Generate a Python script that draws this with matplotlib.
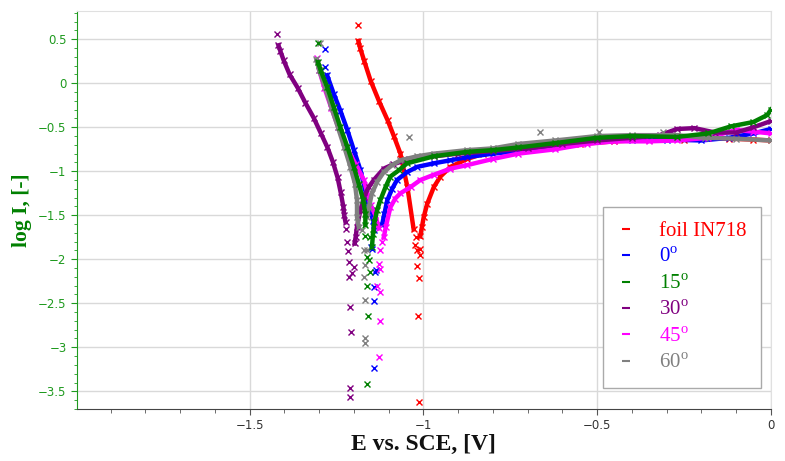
import matplotlib
matplotlib.use("Agg")
import matplotlib.pyplot as plt
from matplotlib.lines import Line2D
from matplotlib.ticker import MultipleLocator, FuncFormatter

# (E vs SCE [V], log I)
# foil IN718
red_top = [(-1.187, 0.66)]
red_cath = [(-1.187, 0.48), (-1.182, 0.40), (-1.170, 0.25), (-1.152, 0.03), (-1.128, -0.20),
            (-1.103, -0.42), (-1.085, -0.60), (-1.066, -0.80), (-1.046, -1.18), (-1.028, -1.66)]
red_scat = [(-1.020, -1.75), (-1.023, -1.84), (-1.018, -1.90), (-1.010, -1.88), (-1.009, -1.95),
            (-1.018, -2.08), (-1.013, -2.21), (-1.016, -2.65), (-1.013, -3.62)]
red_anod = [(-1.009, -1.74), (-1.004, -1.63), (-0.999, -1.52), (-0.989, -1.37), (-0.970, -1.18),
            (-0.951, -1.06), (-0.922, -0.95), (-0.874, -0.86), (-0.827, -0.80), (-0.75, -0.76),
            (-0.65, -0.72), (-0.55, -0.69), (-0.45, -0.66), (-0.35, -0.64), (-0.25, -0.64),
            (-0.18, -0.62), (-0.12, -0.63), (-0.05, -0.64), (0.0, -0.65)]

# 0 deg
blue_top = [(-1.283, 0.39), (-1.282, 0.19)]
blue_cath = [(-1.277, 0.09), (-1.258, -0.12), (-1.239, -0.31), (-1.219, -0.53), (-1.200, -0.76),
             (-1.181, -0.99), (-1.167, -1.22), (-1.157, -1.41), (-1.144, -1.56), (-1.142, -1.67)]
blue_scat = [(-1.152, -1.86), (-1.148, -1.88), (-1.138, -2.14), (-1.135, -2.12), (-1.143, -2.32),
             (-1.141, -2.47), (-1.141, -3.23)]
blue_anod = [(-1.119, -1.61), (-1.112, -1.48), (-1.104, -1.33), (-1.090, -1.20), (-1.076, -1.10),
             (-1.047, -1.01), (-1.018, -0.95), (-0.970, -0.91), (-0.922, -0.875), (-0.874, -0.84),
             (-0.80, -0.80), (-0.70, -0.76), (-0.60, -0.70), (-0.50, -0.66), (-0.40, -0.64),
             (-0.30, -0.64), (-0.20, -0.65), (-0.12, -0.62), (-0.05, -0.57), (0.0, -0.52)]

# 15 deg
green_top = [(-1.304, 0.46)]
green_cath = [(-1.303, 0.24), (-1.296, 0.15), (-1.277, -0.04), (-1.258, -0.27), (-1.239, -0.50),
              (-1.219, -0.72), (-1.200, -0.95), (-1.186, -1.14), (-1.173, -1.33), (-1.167, -1.48),
              (-1.167, -1.61)]
green_scat = [(-1.167, -1.73), (-1.154, -1.75), (-1.162, -1.97), (-1.157, -2.01), (-1.155, -2.15),
              (-1.162, -2.30), (-1.159, -2.64), (-1.162, -3.42)]
green_anod = [(-1.148, -1.86), (-1.145, -1.71), (-1.141, -1.58), (-1.133, -1.44), (-1.124, -1.33),
              (-1.109, -1.18), (-1.095, -1.06), (-1.071, -0.99), (-1.047, -0.91), (-0.970, -0.83),
              (-0.874, -0.78), (-0.80, -0.76), (-0.727, -0.73), (-0.62, -0.68), (-0.50, -0.62),
              (-0.40, -0.60), (-0.27, -0.61), (-0.18, -0.57), (-0.115, -0.49), (-0.05, -0.44),
              (-0.01, -0.36), (0.0, -0.30)]

# 30 deg
purple_top = [(-1.420, 0.56)]
purple_cath = [(-1.417, 0.43), (-1.412, 0.37), (-1.402, 0.26), (-1.385, 0.10), (-1.362, -0.05),
               (-1.340, -0.22), (-1.316, -0.39), (-1.296, -0.56), (-1.276, -0.73), (-1.260, -0.90),
               (-1.247, -1.07), (-1.238, -1.24), (-1.230, -1.41), (-1.228, -1.50), (-1.224, -1.58)]
purple_scat = [(-1.222, -1.66), (-1.219, -1.80), (-1.217, -1.91), (-1.214, -2.03), (-1.200, -2.09),
               (-1.205, -2.16), (-1.214, -2.20), (-1.212, -2.54), (-1.208, -2.83), (-1.210, -3.46),
               (-1.212, -3.56)]
purple_anod = [(-1.198, -1.82), (-1.195, -1.75), (-1.191, -1.63), (-1.181, -1.44), (-1.171, -1.29),
               (-1.157, -1.18), (-1.143, -1.10), (-1.114, -0.97), (-1.086, -0.92), (-1.04, -0.86),
               (-0.97, -0.83), (-0.90, -0.80), (-0.80, -0.77), (-0.70, -0.74), (-0.60, -0.69),
               (-0.50, -0.65), (-0.40, -0.62), (-0.32, -0.59), (-0.27, -0.52), (-0.22, -0.51),
               (-0.16, -0.56), (-0.10, -0.56), (-0.05, -0.50), (0.0, -0.43)]

# 45 deg
magenta_top = [(-1.307, 0.29)]
magenta_cath = [(-1.300, 0.15), (-1.285, -0.05), (-1.265, -0.28), (-1.245, -0.50), (-1.222, -0.72),
                (-1.195, -0.92), (-1.171, -1.10), (-1.152, -1.38), (-1.138, -1.50), (-1.128, -1.65)]
magenta_scat = [(-1.119, -1.80), (-1.124, -1.90), (-1.128, -2.05), (-1.124, -2.11), (-1.133, -2.30),
                (-1.125, -2.37), (-1.125, -2.70), (-1.128, -3.11)]
magenta_anod = [(-1.114, -1.75), (-1.108, -1.63), (-1.095, -1.41), (-1.081, -1.31), (-1.066, -1.25),
                (-1.037, -1.18), (-1.009, -1.10), (-0.970, -1.04), (-0.922, -0.97), (-0.874, -0.93),
                (-0.80, -0.86), (-0.727, -0.80), (-0.62, -0.75), (-0.53, -0.69), (-0.45, -0.66),
                (-0.35, -0.66), (-0.27, -0.65), (-0.18, -0.62), (-0.10, -0.53), (-0.05, -0.55),
                (0.0, -0.57)]

# 60 deg
gray_top = [(-1.298, 0.46), (-1.040, -0.61), (-0.664, -0.55), (-0.495, -0.55), (-0.31, -0.55)]
gray_cath = [(-1.308, 0.27), (-1.300, 0.15), (-1.283, -0.04), (-1.265, -0.27), (-1.246, -0.50),
             (-1.228, -0.72), (-1.210, -0.95), (-1.197, -1.14), (-1.191, -1.33), (-1.191, -1.52),
             (-1.186, -1.63)]
gray_scat = [(-1.176, -1.67), (-1.171, -1.89), (-1.162, -1.89), (-1.167, -2.07), (-1.171, -2.20),
             (-1.167, -2.46), (-1.169, -2.90), (-1.169, -2.95)]
gray_anod = [(-1.162, -1.52), (-1.157, -1.41), (-1.148, -1.25), (-1.133, -1.12), (-1.114, -1.01),
             (-1.090, -0.93), (-1.066, -0.875), (-1.018, -0.83), (-0.970, -0.80), (-0.874, -0.76),
             (-0.80, -0.74), (-0.727, -0.69), (-0.62, -0.65), (-0.50, -0.60), (-0.40, -0.59),
             (-0.27, -0.59), (-0.19, -0.62), (-0.10, -0.63), (0.0, -0.65)]

labels = ["foil IN718", r"0$^{\mathrm{o}}$", r"15$^{\mathrm{o}}$", r"30$^{\mathrm{o}}$",
          r"45$^{\mathrm{o}}$", r"60$^{\mathrm{o}}$"]
colors = ["#ff0000", "#0000ff", "#008000", "#800080", "#ff00ff", "#808080"]

series = [
    (red_top, red_cath, red_scat, red_anod),
    (blue_top, blue_cath, blue_scat, blue_anod),
    (green_top, green_cath, green_scat, green_anod),
    (purple_top, purple_cath, purple_scat, purple_anod),
    (magenta_top, magenta_cath, magenta_scat, magenta_anod),
    (gray_top, gray_cath, gray_scat, gray_anod),
]
draw_order = [0, 1, 4, 3, 5, 2]

plt.rcParams["mathtext.fontset"] = "custom"
plt.rcParams["mathtext.rm"] = "Liberation Serif"

fig = plt.figure(figsize=(7.85, 4.61), dpi=100)
ax = fig.add_axes([0.098, 0.113, 0.884, 0.863])

for i in draw_order:
    top, cath, scat, anod = series[i]
    c = colors[i]
    for branch in (cath, anod):
        xs, ys = zip(*branch)
        ax.plot(xs, ys, color=c, lw=3.2, marker="x", ms=4.5, mew=1, zorder=3)
    for pts in (top, scat):
        xs, ys = zip(*pts)
        ax.plot(xs, ys, color=c, lw=0, marker="x", ms=4, mew=1, zorder=3)

ax.set_xlim(-1.997, 0.0)
ax.set_ylim(-3.7, 0.82)
ax.xaxis.set_major_locator(MultipleLocator(0.5))
ax.xaxis.set_minor_locator(MultipleLocator(0.1))
ax.yaxis.set_major_locator(MultipleLocator(0.5))
ax.yaxis.set_minor_locator(MultipleLocator(0.1))
fmt = FuncFormatter(lambda v, pos: ("%g" % round(v, 2)).replace("-", "\u2212"))
ax.xaxis.set_major_formatter(fmt)
ax.yaxis.set_major_formatter(fmt)
ax.grid(True, which="major", color="#d9d9d9", lw=1)
ax.set_axisbelow(True)

green = "#1f9a1f"
ax.spines["left"].set_color(green)
ax.spines["bottom"].set_color("#444444")
ax.spines["top"].set_color("#e0e0e0")
ax.spines["right"].set_color("#e0e0e0")
ax.tick_params(axis="y", which="both", colors=green, labelsize=8.5, direction="out")
ax.tick_params(axis="y", which="major", length=4)
ax.tick_params(axis="y", which="minor", length=2)
ax.tick_params(axis="x", which="both", colors="#555555", labelsize=8.5, direction="out")
ax.tick_params(axis="x", which="major", length=4)
ax.tick_params(axis="x", which="minor", length=3)
ax.tick_params(axis="x", labelcolor="#333333")

ax.set_xlabel("E vs. SCE, [V]", family="Liberation Serif", fontweight="bold",
              fontsize=17, color="#111111", labelpad=1)
ax.set_ylabel("log I, [-]", family="Liberation Serif", fontweight="bold",
              fontsize=15.5, color="#008000", labelpad=4)

handles = [Line2D([], [], color=c, marker="_", linestyle="none", markersize=6, mew=1.5)
           for c in colors]
leg = ax.legend(handles, labels, loc="lower right", bbox_to_anchor=(0.986, 0.053),
                prop={"family": "Liberation Serif", "size": 15}, labelcolor="linecolor",
                frameon=True, fancybox=False, framealpha=1, edgecolor="#aaaaaa",
                handlelength=0.8, handletextpad=1.2, labelspacing=0.33, borderpad=0.7,
                borderaxespad=0)
leg.get_frame().set_linewidth(1)

fig.savefig("out.png", dpi=100)
